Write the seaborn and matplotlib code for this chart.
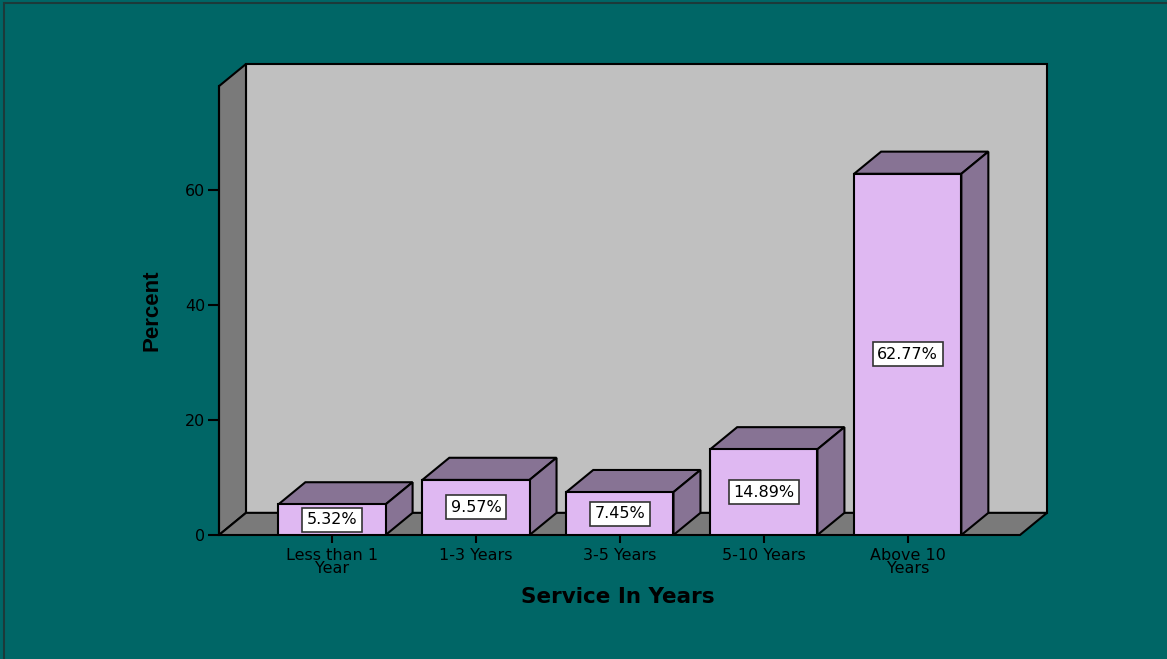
import matplotlib
matplotlib.use("Agg")
import matplotlib.pyplot as plt
from matplotlib.patches import Polygon, Rectangle
from matplotlib.lines import Line2D
import seaborn as sns

# Survey data: length of service
categories = ["Less than 1\nYear", "1-3 Years", "3-5 Years", "5-10 Years", "Above 10\nYears"]
percent = [5.32, 9.57, 7.45, 14.89, 62.77]
y_ticks = [0, 20, 40, 60]

# Colours
BG = "#006666"
WALL = "#c0c0c0"
SIDE_WALL = "#7a7a7a"
BAR_FRONT = "#dfb8f2"
BAR_SHADE = "#877394"

plt.rcParams["font.family"] = ["DejaVu Sans"]

fig = plt.figure(figsize=(11.67, 6.59), dpi=100, facecolor=BG)
ax = fig.add_axes([219 / 1167, 124 / 659, 828 / 1167, 471 / 659])
ax.set_facecolor("none")

# Pseudo-3D depth (data units) and plot extent
DX, DY = 0.1875, 3.85
X0, X1 = -0.785, 4.78
YTOP = 78.0

sns.barplot(x=categories, y=percent, order=categories, width=0.745,
            color=BAR_FRONT, saturation=1, edgecolor="black", linewidth=1.5,
            ax=ax, zorder=3)
bars = list(ax.patches)

# Back wall, left side wall and floor
ax.add_patch(Rectangle((X0 + DX, DY), X1 - X0, YTOP, facecolor=WALL,
                       edgecolor="black", lw=1.5, zorder=0.5, clip_on=False))
ax.add_patch(Polygon([(X0, 0), (X0, YTOP), (X0 + DX, YTOP + DY), (X0 + DX, DY)],
                     closed=True, facecolor=SIDE_WALL, edgecolor="black", lw=1.5,
                     zorder=0.6, clip_on=False))
ax.add_patch(Polygon([(X0, 0), (X1, 0), (X1 + DX, DY), (X0 + DX, DY)],
                     closed=True, facecolor=SIDE_WALL, edgecolor="black", lw=1.5,
                     zorder=0.6, clip_on=False))

# Top and side faces of each bar, plus value labels
for bar, v in zip(bars, percent):
    x0 = bar.get_x()
    w = bar.get_width()
    h = bar.get_height()
    x1 = x0 + w
    ax.add_patch(Polygon([(x0, h), (x0 + DX, h + DY), (x1 + DX, h + DY), (x1, h)],
                         closed=True, facecolor=BAR_SHADE, edgecolor="black", lw=1.5, zorder=2.5))
    ax.add_patch(Polygon([(x1, 0), (x1, h), (x1 + DX, h + DY), (x1 + DX, DY)],
                         closed=True, facecolor=BAR_SHADE, edgecolor="black", lw=1.5, zorder=2.5))
    ax.text(x0 + w / 2, h / 2, f"{v:.2f}%", ha="center", va="center",
            fontsize=11.5, color="black", zorder=5,
            bbox=dict(boxstyle="square,pad=0.28", facecolor="white",
                      edgecolor="#333333", linewidth=1.2))

ax.set_xlim(X0, X1 + DX)
ax.set_ylim(0, YTOP + DY)

ax.set_yticks(y_ticks)
ax.set_yticklabels([str(t) for t in y_ticks])
ax.set_xticks(range(len(categories)))
ax.set_xticklabels(categories)
for lbl in ax.get_xticklabels():
    lbl.set_linespacing(0.85)

ax.tick_params(axis="y", direction="out", length=8, width=1.5, pad=2,
               labelsize=11.5, colors="black")
ax.tick_params(axis="x", direction="out", length=6, width=1.5, pad=3,
               labelsize=11.5, colors="black")

for s in ["top", "right", "bottom"]:
    ax.spines[s].set_visible(False)
ax.spines["left"].set_bounds(0, YTOP)
ax.spines["left"].set_linewidth(1.5)

ax.set_xlabel("Service In Years", fontsize=15.5, fontweight="bold", color="black")
ax.xaxis.set_label_coords(0.482, -0.11)
ax.set_ylabel("Percent", fontsize=16, fontweight="bold", color="black",
              family=["Liberation Sans", "DejaVu Sans"])
ax.yaxis.set_label_coords(-0.068, 0.478)

# Thin frame along the top and left edges of the canvas
fig.add_artist(Line2D([3.5 / 1167, 3.5 / 1167], [0, 1 - 2.5 / 659],
                      transform=fig.transFigure, color="#1c3a3a", lw=1.5))
fig.add_artist(Line2D([3.5 / 1167, 1], [1 - 2.5 / 659, 1 - 2.5 / 659],
                      transform=fig.transFigure, color="#1c3a3a", lw=1.5))

fig.savefig("out.png", dpi=100, facecolor=BG)
